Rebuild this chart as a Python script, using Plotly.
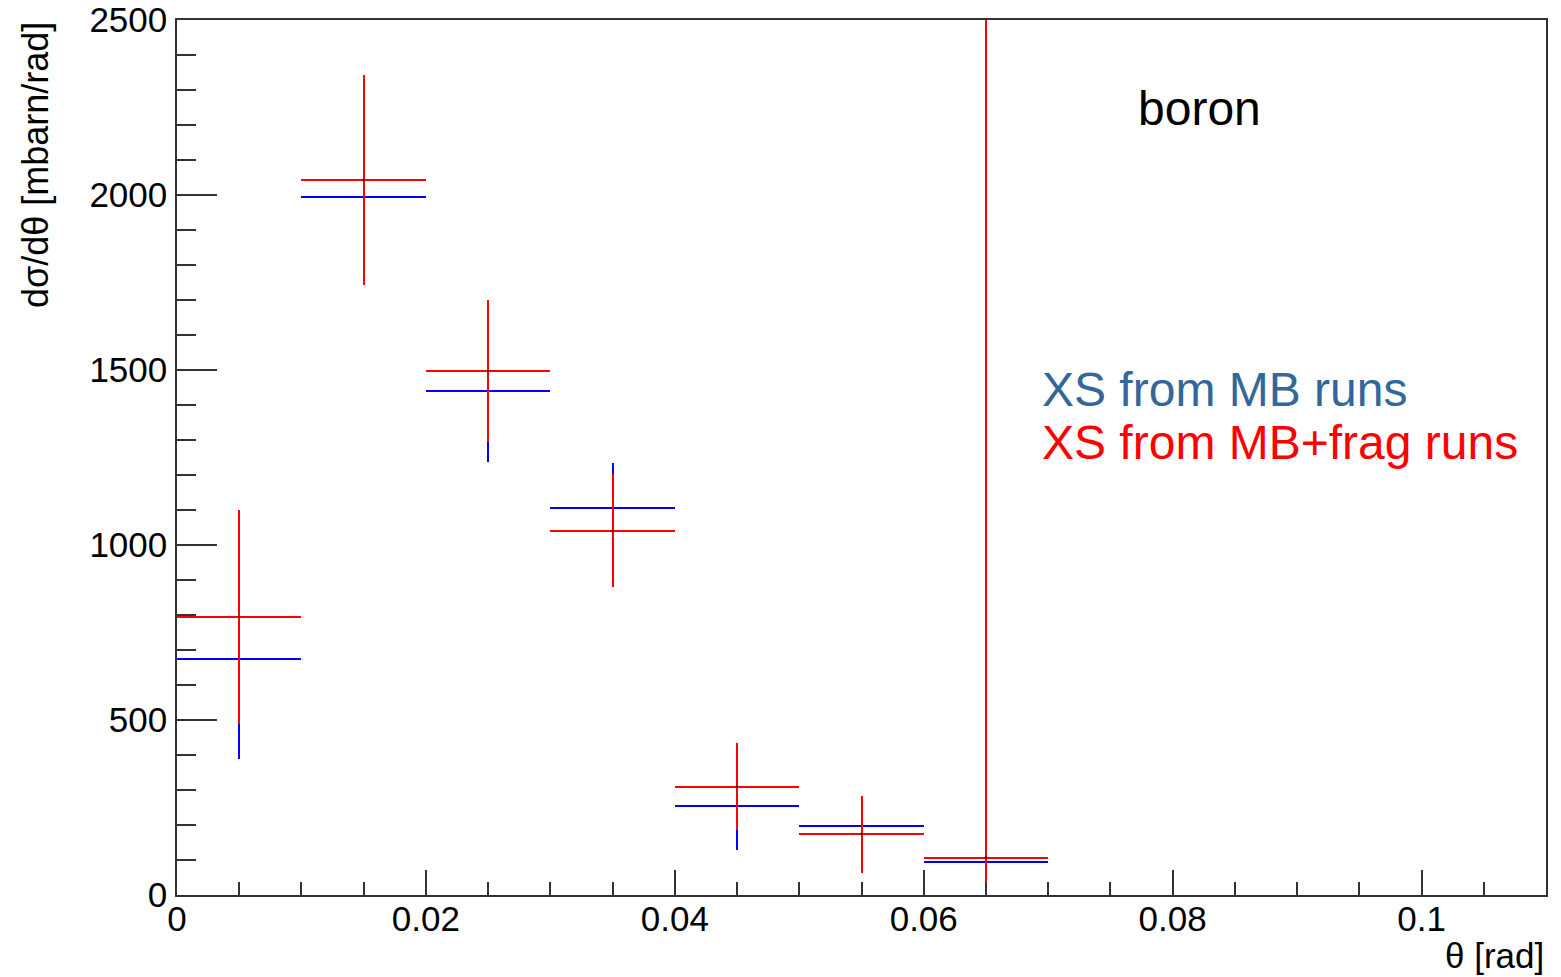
import plotly.graph_objects as go

# ---- data ----
mb_theta = [0.005, 0.015, 0.025, 0.035, 0.045, 0.055, 0.065]
mb_value = [674, 1994, 1440, 1107, 254, 197, 93]
mb_err = [284, 200, 203, 126, 126, 70, 60]
mb_halfwidth = [0.005, 0.005, 0.005, 0.005, 0.005, 0.005, 0.005]

frag_theta = [0.005, 0.015, 0.025, 0.035, 0.045, 0.055, 0.065, 0.075]
frag_value = [795, 2043, 1497, 1041, 310, 174, 107, 0]
frag_err = [306, 300, 203, 162, 125, 110, 2600, 37]
frag_halfwidth = [0.005, 0.005, 0.005, 0.005, 0.005, 0.005, 0.005, 0.0]

FONT = "Liberation Sans, Arial, Helvetica, sans-serif"
AXC = "#333333"

fig = go.Figure()

def add_series(x, y, ey, ex, color, name):
    fig.add_trace(go.Scatter(
        x=x, y=y, mode="markers", name=name,
        marker=dict(size=2, color="black"),
        error_y=dict(type="data", array=ey, visible=True, color=color,
                     thickness=2, width=0),
        error_x=dict(type="data", array=ex, visible=True, color=color,
                     thickness=2, width=0),
        cliponaxis=True, showlegend=False,
    ))

add_series(mb_theta, mb_value, mb_err, mb_halfwidth, "#0000ff", "XS from MB runs")
add_series(frag_theta, frag_value, frag_err, frag_halfwidth, "#ff0000", "XS from MB+frag runs")

fig.update_layout(
    width=1561, height=977,
    margin=dict(l=177, r=15, t=20, b=82, autoexpand=False),
    paper_bgcolor="white", plot_bgcolor="white",
    font=dict(family=FONT, color="black", size=35),
)

fig.update_xaxes(
    range=[0, 0.11], showgrid=False, zeroline=False, automargin=False,
    showline=True, linecolor=AXC, linewidth=1.5, mirror=True,
    ticks="inside", ticklen=25, tickwidth=1.5, tickcolor=AXC,
    dtick=0.02, tick0=0,
    tickfont=dict(family=FONT, size=35, color="black"),
    ticklabelstandoff=-8,
    minor=dict(ticks="inside", ticklen=13, dtick=0.005, tick0=0,
               tickcolor=AXC, tickwidth=1.5, showgrid=False),
)
fig.update_yaxes(
    range=[0, 2500], showgrid=False, zeroline=False, automargin=False,
    showline=True, linecolor=AXC, linewidth=1.5, mirror=True,
    ticks="inside", ticklen=40, tickwidth=1.5, tickcolor=AXC,
    dtick=500, tick0=0,
    tickfont=dict(family=FONT, size=35, color="black"),
    ticklabelstandoff=1,
    minor=dict(ticks="inside", ticklen=19, dtick=100, tick0=0,
               tickcolor=AXC, tickwidth=1.5, showgrid=False),
)

annotations = [
    dict(text="boron", x=0.747, y=0.899, xref="paper", yref="paper",
         xanchor="center", yanchor="middle", showarrow=False,
         font=dict(family=FONT, size=48, color="black")),
    dict(text="XS from MB runs", x=0.6305, y=0.578, xref="paper", yref="paper",
         xanchor="left", yanchor="middle", showarrow=False,
         font=dict(family=FONT, size=48, color="#336699")),
    dict(text="XS from MB+frag runs", x=0.6305, y=0.5177, xref="paper", yref="paper",
         xanchor="left", yanchor="middle", showarrow=False,
         font=dict(family=FONT, size=48, color="#ff0000")),
    dict(text="dσ/dθ [mbarn/rad]", x=-0.1037, y=1.0, xref="paper", yref="paper",
         xanchor="center", yanchor="top", textangle=-90, showarrow=False,
         font=dict(family=FONT, size=36, color="black")),
    dict(text="θ [rad]", x=1.0, y=-0.0686, xref="paper", yref="paper",
         xanchor="right", yanchor="middle", showarrow=False,
         font=dict(family=FONT, size=35, color="black")),
]
fig.update_layout(annotations=annotations)

post = """
document.body.style.margin = '0';
var st = document.createElement('style');
st.textContent = '.errorbar path { shape-rendering: crispEdges; }';
document.head.appendChild(st);
"""
fig.write_html("out.html", post_script=post, config={"displayModeBar": False})
